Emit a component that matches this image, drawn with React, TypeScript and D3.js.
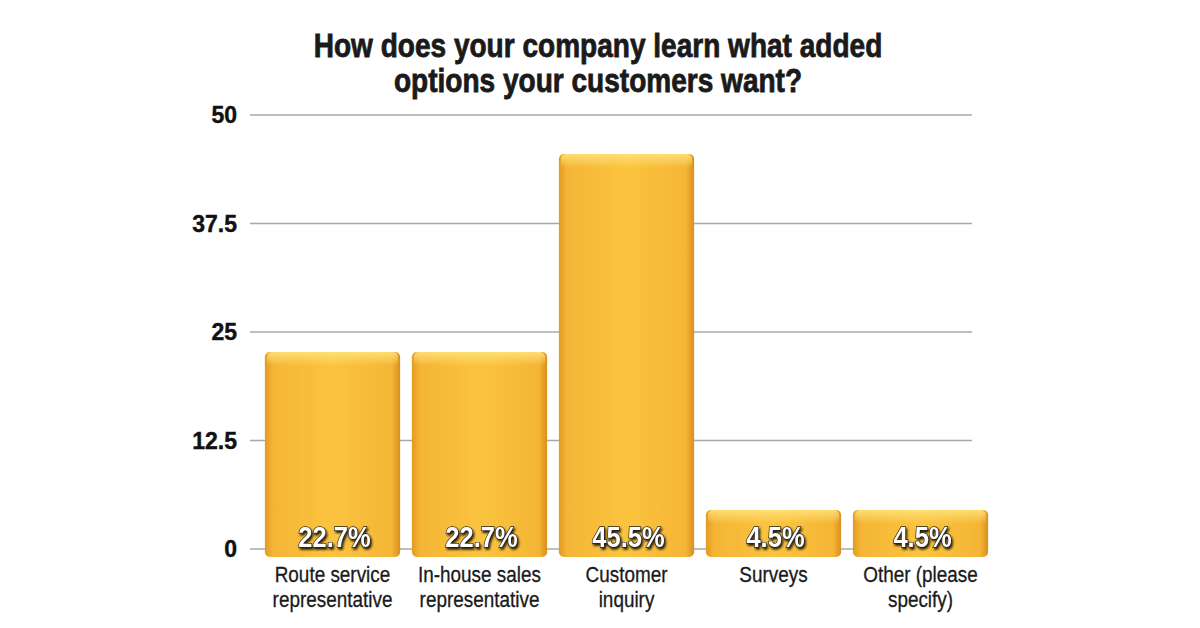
import React from 'react';
import * as d3 from 'd3';

const categories = [
  ['Route service', 'representative'],
  ['In-house sales', 'representative'],
  ['Customer', 'inquiry'],
  ['Surveys'],
  ['Other (please', 'specify)'],
];
const values = [22.7, 22.7, 45.5, 4.5, 4.5];
const yTicks = [0, 12.5, 25, 37.5, 50];
const titleLines = ['How does your company learn what added', 'options your customers want?'];

const W = 1200;
const H = 628;
const sans = '"Liberation Sans", Arial, sans-serif';

// condensed look: the narrow face isn't available, so squeeze horizontally
const Squeezed = ({ x, y, sx, children, ...rest }: any) => (
  <text transform={`translate(${x},${y}) scale(${sx},1)`} textAnchor="middle" fontFamily={sans} {...rest}>
    {children}
  </text>
);

const App = () => {
  const y = d3.scaleLinear().domain([0, 50]).range([549, 115]);
  const x = d3.scaleBand<number>()
    .domain(values.map((_, i) => i))
    .range([259, 994])
    .paddingInner(0.08)
    .paddingOuter(0.04);
  const bw = x.bandwidth();

  return (
    <svg width={W} height={H} style={{ position: 'absolute', left: 0, top: 0, background: '#fff' }}>
      <defs>
        <linearGradient id="barH" x1="0" x2="1" y1="0" y2="0">
          <stop offset="0" stopColor="#E39A22" />
          <stop offset="0.06" stopColor="#F4B535" />
          <stop offset="0.5" stopColor="#FBC43F" />
          <stop offset="0.94" stopColor="#F4B535" />
          <stop offset="1" stopColor="#D98F1C" />
        </linearGradient>
        <linearGradient id="barTop" x1="0" x2="0" y1="0" y2="1">
          <stop offset="0" stopColor="#FFE27A" stopOpacity="0.9" />
          <stop offset="1" stopColor="#FFE27A" stopOpacity="0" />
        </linearGradient>
        <filter id="shadow" x="-10%" y="-10%" width="120%" height="130%">
          <feDropShadow dx="1.5" dy="2" stdDeviation="1.2" floodColor="#000" floodOpacity="0.85" />
        </filter>
      </defs>

      {/* title */}
      {titleLines.map((t, i) => (
        <Squeezed key={t} x={598} y={57 + i * 35} sx={0.85} fontWeight="bold" fontSize={33}
          fill="#1a1a1a" stroke="#1a1a1a" strokeWidth={0.8}>{t}</Squeezed>
      ))}

      {/* grid + y ticks */}
      {yTicks.map(t => (
        <g key={t}>
          <line x1={250} x2={972} y1={y(t)} y2={y(t)} stroke="#a8a8a8" strokeWidth={1.5} />
          <text x={237} y={y(t)} dy="0.36em" textAnchor="end" fontFamily={sans}
            fontWeight="bold" fontSize={23} fill="#111" stroke="#111" strokeWidth={0.4}>{t}</text>
        </g>
      ))}

      {/* bars */}
      {values.map((v, i) => {
        const x0 = x(i) as number;
        const top = y(v);
        const bottom = y(0) + 8;
        return (
          <g key={i}>
            <rect x={x0} y={top} width={bw} height={bottom - top} rx={5} fill="url(#barH)" />
            <rect x={x0 + 2} y={top} width={bw - 4} height={Math.min(14, bottom - top)} rx={5} fill="url(#barTop)" />
            <Squeezed x={x0 + bw / 2 + 2} y={y(0) - 2} sx={0.88} fontWeight="bold" fontSize={29}
              fill="#fff" stroke="#222" strokeWidth={1.4} paintOrder="stroke" filter="url(#shadow)">
              {v.toFixed(1)}%
            </Squeezed>
          </g>
        );
      })}

      {/* category labels */}
      {categories.map((lines, i) => (
        <g key={i}>
          {lines.map((l, j) => (
            <Squeezed key={j} x={(x(i) as number) + bw / 2} y={582 + j * 25} sx={0.86}
              fontSize={22} fill="#1a1a1a" stroke="#1a1a1a" strokeWidth={0.3}>{l}</Squeezed>
          ))}
        </g>
      ))}
    </svg>
  );
};

export default App;
